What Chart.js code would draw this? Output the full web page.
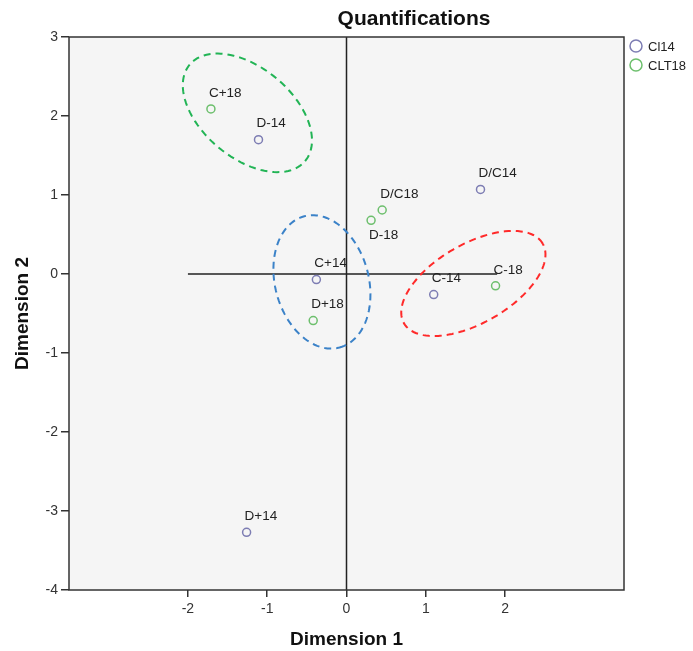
<!DOCTYPE html>
<html>
<head>
<meta charset="utf-8">
<script src="https://cdn.jsdelivr.net/npm/chart.js@4.4.1/dist/chart.umd.min.js"></script>
<style>
  body { margin: 0; background: #fff; }
  #wrap { width: 693px; height: 651px; }
</style>
</head>
<body>
<div id="wrap"><canvas id="myChart"></canvas></div>
<script>
// Data
const labelsCl14 = ['D-14', 'C+14', 'D+14', 'D/C14', 'C-14'];
const xCl14 = [-1.11, -0.38, -1.26, 1.69, 1.10];
const yCl14 = [1.70, -0.07, -3.27, 1.07, -0.26];

const labelsClt18 = ['C+18', 'D+18', 'D/C18', 'D-18', 'C-18'];
const xClt18 = [-1.71, -0.42, 0.45, 0.31, 1.88];
const yClt18 = [2.09, -0.59, 0.81, 0.68, -0.15];

// label below the point instead of above
const labelsBelow = ['D-18'];

const xTicks = [-2, -1, 0, 1, 2];
const yTicks = [3, 2, 1, 0, -1, -2, -3, -4];

// dashed ellipses: centre x, centre y, semi axes, angle (deg) in data units
const ellipseCx = [-1.25, -0.31, 1.60];
const ellipseCy = [2.04, -0.10, -0.12];
const ellipseA = [0.95, 0.86, 1.01];
const ellipseB = [0.57, 0.59, 0.50];
const ellipseAngle = [-40, -75, 30];
const ellipseColors = ['#22b455', '#3b82c8', '#ff2a2a'];

const purple = '#7d7db3';
const green = '#6dbf6d';
const fontFamily = '"Liberation Sans", Arial, sans-serif';

const toPoints = (xs, ys) => xs.map((x, i) => ({ x: x, y: ys[i] }));

// background, border, reference lines, ellipses, labels, title and legend
const decorations = {
    id: 'decorations',
    beforeDatasetsDraw(chart) {
        const { ctx, chartArea: a, scales: { x, y } } = chart;
        ctx.save();
        ctx.fillStyle = '#f5f5f5';
        ctx.fillRect(a.left, a.top, a.right - a.left, a.bottom - a.top);

        // reference lines
        ctx.strokeStyle = '#222';
        ctx.lineWidth = 1.5;
        ctx.beginPath();
        ctx.moveTo(x.getPixelForValue(0), a.top);
        ctx.lineTo(x.getPixelForValue(0), a.bottom);
        ctx.moveTo(x.getPixelForValue(-2), y.getPixelForValue(0));
        ctx.lineTo(x.getPixelForValue(1.9), y.getPixelForValue(0));
        ctx.stroke();

        // ellipses
        ctx.lineWidth = 2;
        ctx.setLineDash([7, 5]);
        ellipseCx.forEach((cx, i) => {
            const t = ellipseAngle[i] * Math.PI / 180;
            ctx.strokeStyle = ellipseColors[i];
            ctx.beginPath();
            for (let k = 0; k <= 120; k++) {
                const s = k / 120 * Math.PI * 2;
                const u = ellipseA[i] * Math.cos(s);
                const v = ellipseB[i] * Math.sin(s);
                const px = x.getPixelForValue(cx + u * Math.cos(t) - v * Math.sin(t));
                const py = y.getPixelForValue(ellipseCy[i] + u * Math.sin(t) + v * Math.cos(t));
                if (k === 0) ctx.moveTo(px, py); else ctx.lineTo(px, py);
            }
            ctx.stroke();
        });
        ctx.setLineDash([]);

        // border
        ctx.strokeStyle = '#333';
        ctx.lineWidth = 1.5;
        ctx.strokeRect(a.left, a.top, a.right - a.left, a.bottom - a.top);
        ctx.restore();
    },
    afterDatasetsDraw(chart) {
        const { ctx } = chart;
        ctx.save();
        ctx.font = '13.5px ' + fontFamily;
        ctx.fillStyle = '#222';
        ctx.textAlign = 'left';
        ctx.textBaseline = 'middle';
        chart.data.datasets.forEach((ds, di) => {
            const meta = chart.getDatasetMeta(di);
            meta.data.forEach((pt, i) => {
                const name = ds.pointNames[i];
                const dy = labelsBelow.includes(name) ? 15 : -16;
                ctx.fillText(name, pt.x - 2, pt.y + dy);
            });
        });

        // title
        ctx.font = 'bold 21px ' + fontFamily;
        ctx.textAlign = 'center';
        ctx.fillStyle = '#111';
        ctx.fillText('Quantifications', 414, 19);

        // legend
        ctx.font = '13px ' + fontFamily;
        ctx.textAlign = 'left';
        ctx.lineWidth = 1.5;
        chart.data.datasets.forEach((ds, di) => {
            const ly = 46 + di * 19;
            ctx.strokeStyle = ds.borderColor;
            ctx.beginPath();
            ctx.arc(636, ly, 6, 0, Math.PI * 2);
            ctx.stroke();
            ctx.fillStyle = '#222';
            ctx.fillText(ds.label, 648, ly + 1);
        });
        ctx.restore();
    }
};

const ctx = document.getElementById('myChart');

new Chart(ctx, {
    type: 'scatter',
    data: {
        datasets: [{
            label: 'Cl14',
            data: toPoints(xCl14, yCl14),
            pointNames: labelsCl14,
            borderColor: purple,
            backgroundColor: 'rgba(0,0,0,0)',
            pointRadius: 4,
            pointBorderWidth: 1.5,
        }, {
            label: 'CLT18',
            data: toPoints(xClt18, yClt18),
            pointNames: labelsClt18,
            borderColor: green,
            backgroundColor: 'rgba(0,0,0,0)',
            pointRadius: 4,
            pointBorderWidth: 1.5,
        }]
    },
    options: {
        responsive: true,
        maintainAspectRatio: false,
        animation: false,
        layout: {
            padding: { left: 0, right: 69, top: 37, bottom: 0 }
        },
        plugins: {
            legend: { display: false },
            tooltip: { enabled: false },
        },
        scales: {
            x: {
                type: 'linear',
                min: -3.5,
                max: 3.5,
                afterBuildTicks: axis => { axis.ticks = xTicks.map(v => ({ value: v })); },
                afterFit: axis => { axis.height = 61; },
                grid: {
                    display: true,
                    drawOnChartArea: false,
                    drawTicks: true,
                    tickLength: 7,
                    color: '#333',
                    lineWidth: 1.5,
                },
                border: { display: false },
                ticks: {
                    color: '#333',
                    padding: 4,
                    font: { family: fontFamily, size: 14 },
                },
                title: {
                    display: true,
                    text: 'Dimension 1',
                    color: '#111',
                    padding: { top: 8, bottom: 0 },
                    font: { family: fontFamily, size: 19, weight: 'bold' },
                }
            },
            y: {
                type: 'linear',
                min: -4,
                max: 3,
                afterBuildTicks: axis => { axis.ticks = yTicks.map(v => ({ value: v })); },
                afterFit: axis => { axis.width = 69; },
                grid: {
                    display: true,
                    drawOnChartArea: false,
                    drawTicks: true,
                    tickLength: 8,
                    color: '#333',
                    lineWidth: 1.5,
                },
                border: { display: false },
                ticks: {
                    color: '#333',
                    padding: 3,
                    font: { family: fontFamily, size: 14 },
                },
                title: {
                    display: true,
                    text: 'Dimension 2',
                    color: '#111',
                    padding: { top: 11, bottom: 0 },
                    font: { family: fontFamily, size: 19, weight: 'bold' },
                }
            }
        }
    },
    plugins: [decorations]
});
</script>
</body>
</html>
